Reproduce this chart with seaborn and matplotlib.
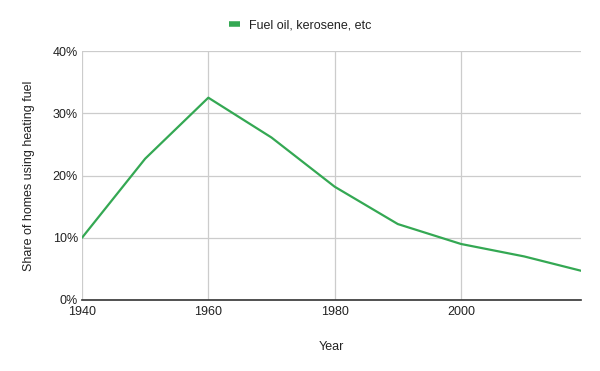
import matplotlib
matplotlib.use("Agg")
import matplotlib.pyplot as plt
import seaborn as sns
import pandas as pd
from matplotlib.ticker import PercentFormatter

years = [1940, 1950, 1960, 1970, 1980, 1990, 2000, 2010, 2019]
share = [10.0, 22.7, 32.5, 26.1, 18.2, 12.2, 9.0, 7.0, 4.7]
series_name = "Fuel oil, kerosene, etc"
x_ticks = [1940, 1960, 1980, 2000]
y_ticks = [0, 10, 20, 30, 40]

df = pd.DataFrame({"Year": years, "Share": share, "Series": series_name})

sns.set_style("white")
plt.rcParams["font.family"] = ["Liberation Sans", "DejaVu Sans"]

fig = plt.figure(figsize=(6, 3.71), dpi=100)
ax = fig.add_axes([82/600, 71/371, (581-82)/600, (300-51)/371])

sns.lineplot(data=df, x="Year", y="Share", hue="Series", palette=["#34a853"],
             linewidth=1.6, ax=ax, legend=True)

ax.set_xlim(1940, 2019)
ax.set_ylim(0, 40)
ax.set_xticks(x_ticks)
ax.set_yticks(y_ticks)
ax.yaxis.set_major_formatter(PercentFormatter(decimals=0))
ax.grid(True, color="#cccccc", linewidth=0.9)
ax.set_axisbelow(True)
for s in ["top", "right", "left"]:
    ax.spines[s].set_visible(False)
ax.spines["bottom"].set_color("#333333")
ax.spines["bottom"].set_linewidth(1.2)
ax.tick_params(axis="both", length=0, labelsize=9, colors="#222222")
ax.tick_params(axis="x", pad=4)
ax.tick_params(axis="y", pad=3)
ax.set_xlabel("Year", fontsize=9, color="#222222", labelpad=17)
ax.set_ylabel("Share of homes using heating fuel", fontsize=9, color="#222222", labelpad=13)

leg = ax.legend(loc="center", bbox_to_anchor=(0.5, 1 - 25/371), bbox_transform=fig.transFigure,
                frameon=False, fontsize=9, handlelength=0.9, handletextpad=0.7)
for line in leg.get_lines():
    line.set_linewidth(4)
    line.set_solid_capstyle("butt")
for t in leg.get_texts():
    t.set_color("#222222")

fig.savefig("out.png", dpi=100)
